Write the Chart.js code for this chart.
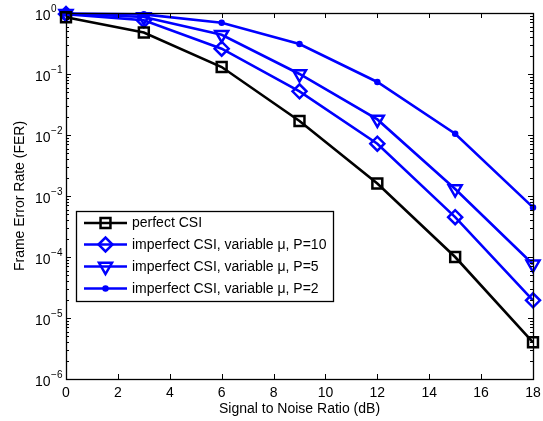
<!DOCTYPE html>
<html>
<head>
<meta charset="utf-8">
<script src="https://cdn.jsdelivr.net/npm/chart.js@4"></script>
<style>
  html, body { margin: 0; padding: 0; background: #fff; }
  canvas { display: block; }
</style>
</head>
<body>
<canvas id="fer" width="543" height="421"></canvas>
<script>
// SNR (dB)
const snr = [0, 3, 6, 9, 12, 15, 18];
// FER curves
const perfectCsi = [0.85, 0.48, 0.13, 0.017, 0.0016, 0.0001, 0.000004];
const imperfectP10 = [0.96, 0.76, 0.26, 0.052, 0.0072, 0.00045, 0.0000195];
const imperfectP5 = [0.97, 0.86, 0.44, 0.10, 0.018, 0.0013, 0.000076];
const imperfectP2 = [0.98, 0.95, 0.69, 0.31, 0.074, 0.0105, 0.00065];
const seriesNames = ['perfect CSI', 'imperfect CSI, variable \u03bc, P=10',
  'imperfect CSI, variable \u03bc, P=5', 'imperfect CSI, variable \u03bc, P=2'];
const xTicks = [0, 2, 4, 6, 8, 10, 12, 14, 16, 18];
const yExponents = [0, -1, -2, -3, -4, -5, -6];

const font = '"Liberation Sans", Arial, sans-serif';

function pts(ys) {
  return snr.map((x, i) => ({ x: x, y: ys[i] }));
}

const datasets = [
  { label: seriesNames[0], data: pts(perfectCsi), borderColor: '#000', pointStyle: 'rect', pointRadius: 7, rotation: 0 },
  { label: seriesNames[1], data: pts(imperfectP10), borderColor: '#0000ff', pointStyle: 'rectRot', pointRadius: 7, rotation: 0 },
  { label: seriesNames[2], data: pts(imperfectP5), borderColor: '#0000ff', pointStyle: 'triangle', pointRadius: 7.5, rotation: 180 },
  { label: seriesNames[3], data: pts(imperfectP2), borderColor: '#0000ff', pointStyle: 'circle', pointRadius: 2, rotation: 0, fill: true }
].map(d => Object.assign({
  borderWidth: 2.6,
  pointBorderColor: d.borderColor,
  pointBackgroundColor: d.fill ? d.borderColor : 'rgba(0,0,0,0)',
  pointBorderWidth: 2.5,
  pointHoverRadius: d.pointRadius,
  tension: 0,
  clip: false
}, d, { fill: false }));

// frame, inward ticks, labels, titles and legend in MATLAB style
const matlabAxes = {
  id: 'matlabAxes',
  afterDatasetsDraw(chart) {
    const ctx = chart.ctx;
    const a = chart.chartArea;
    const xs = chart.scales.x, ys = chart.scales.y;
    ctx.save();
    ctx.strokeStyle = '#000';
    ctx.lineWidth = 1;
    ctx.beginPath();
    // x ticks
    xTicks.forEach(v => {
      const px = Math.round(xs.getPixelForValue(v)) + 0.5;
      ctx.moveTo(px, a.bottom); ctx.lineTo(px, a.bottom - 5);
      ctx.moveTo(px, a.top); ctx.lineTo(px, a.top + 5);
    });
    // y ticks, major and minor
    yExponents.forEach(e => {
      for (let m = 1; m <= 9; m++) {
        const v = m * Math.pow(10, e);
        if (v > 1.0001) break;
        const py = Math.round(ys.getPixelForValue(v)) + 0.5;
        const len = m === 1 ? 5 : 3;
        ctx.moveTo(a.left, py); ctx.lineTo(a.left + len, py);
        ctx.moveTo(a.right, py); ctx.lineTo(a.right - len, py);
      }
    });
    ctx.stroke();
    ctx.lineWidth = 1.3;
    ctx.strokeRect(Math.round(a.left) + 0.5, Math.round(a.top) + 0.5,
      Math.round(a.right - a.left), Math.round(a.bottom - a.top));

    // tick labels
    ctx.fillStyle = '#000';
    ctx.font = '14px ' + font;
    ctx.textAlign = 'center';
    ctx.textBaseline = 'middle';
    xTicks.forEach(v => {
      ctx.fillText(String(v), xs.getPixelForValue(v), a.bottom + 14);
    });
    yExponents.forEach(e => {
      const py = ys.getPixelForValue(Math.pow(10, e));
      ctx.textAlign = 'left';
      ctx.font = '14px ' + font;
      ctx.fillText('10', 35, py + 3);
      const w = ctx.measureText('10').width;
      ctx.font = '10px ' + font;
      ctx.fillText(e === 0 ? '0' : '\u2212' + (-e), 35 + w + 0.5, py - 4);
    });

    // axis titles
    ctx.font = '14px ' + font;
    ctx.textAlign = 'center';
    ctx.fillText('Signal to Noise Ratio (dB)', (a.left + a.right) / 2, 409);
    ctx.save();
    ctx.translate(20, (a.top + a.bottom) / 2);
    ctx.rotate(-Math.PI / 2);
    ctx.fillText('Frame Error Rate (FER)', 0, 0);
    ctx.restore();

    // legend box
    const lx = 76, ly = 211, lw = 257, lh = 90;
    ctx.fillStyle = '#fff';
    ctx.fillRect(lx, ly, lw, lh);
    ctx.lineWidth = 1.3;
    ctx.strokeStyle = '#000';
    ctx.strokeRect(lx + 0.5, ly + 0.5, lw, lh);
    const rows = [223, 244.5, 266.5, 288.5];
    chart.data.datasets.forEach((d, i) => {
      const y = rows[i];
      ctx.strokeStyle = d.borderColor;
      ctx.lineWidth = d.borderWidth;
      ctx.beginPath();
      ctx.moveTo(84, y); ctx.lineTo(127, y);
      ctx.stroke();
      ctx.fillStyle = d.pointBackgroundColor;
      ctx.lineWidth = d.pointBorderWidth;
      Chart.helpers.drawPoint(ctx, {
        pointStyle: d.pointStyle, radius: d.pointRadius,
        rotation: d.rotation, borderWidth: d.pointBorderWidth
      }, 105.5, y);
      ctx.fillStyle = '#000';
      ctx.font = '14px ' + font;
      ctx.textAlign = 'left';
      ctx.fillText(d.label, 132, y + 0.5);
    });
    ctx.restore();
  }
};

new Chart(document.getElementById('fer'), {
  type: 'line',
  data: { datasets: datasets },
  options: {
    responsive: false,
    animation: false,
    events: [],
    layout: { padding: { left: 0, right: 10, top: 13, bottom: 0 } },
    plugins: {
      legend: { display: false },
      tooltip: { enabled: false }
    },
    scales: {
      x: {
        type: 'linear', min: 0, max: 18,
        grid: { display: false, drawTicks: false },
        border: { display: false },
        ticks: { display: false },
        afterFit: s => { s.height = 42; }
      },
      y: {
        type: 'logarithmic', min: 1e-6, max: 1,
        grid: { display: false, drawTicks: false },
        border: { display: false },
        ticks: { display: false },
        afterFit: s => { s.width = 66; }
      }
    }
  },
  plugins: [matlabAxes]
});
</script>
</body>
</html>
